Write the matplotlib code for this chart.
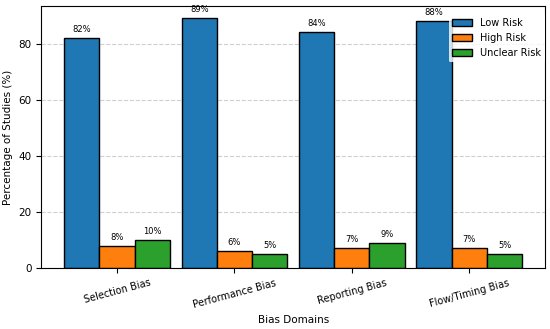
import matplotlib
matplotlib.use('Agg')
import matplotlib.pyplot as plt
import numpy as np

domains = ['Selection Bias', 'Performance Bias', 'Reporting Bias', 'Flow/Timing Bias']
low_risk = [82, 89, 84, 88]
high_risk = [8, 6, 7, 7]
unclear_risk = [10, 5, 9, 5]

fig, ax = plt.subplots(figsize=(5.5, 3.29), dpi=100)
fig.subplots_adjust(left=0.075, right=0.991, top=0.982, bottom=0.185)

x = np.arange(len(domains))
w = 0.3

series = [(low_risk, 'Low Risk', '#1f77b4', -w),
          (high_risk, 'High Risk', '#ff7f0e', 0),
          (unclear_risk, 'Unclear Risk', '#2ca02c', w)]

for vals, name, col, off in series:
    bars = ax.bar(x + off, vals, w, label=name, color=col, edgecolor='black', linewidth=1)
    for b, v in zip(bars, vals):
        ax.annotate(f'{v}%', (b.get_x() + b.get_width() / 2, b.get_height()),
                    xytext=(0, 3), textcoords='offset points',
                    ha='center', va='bottom', fontsize=6)

ax.set_xticks(x)
ax.set_xticklabels(domains, rotation=15, fontsize=7)
ax.tick_params(axis='y', labelsize=7.5)
ax.set_xlabel('Bias Domains', fontsize=7.5)
ax.set_ylabel('Percentage of Studies (%)', fontsize=7.5)
ax.yaxis.grid(True, linestyle='--', alpha=0.6)
ax.set_axisbelow(True)
leg = ax.legend(loc='upper right', fontsize=7, borderaxespad=0,
                bbox_to_anchor=(0.999, 0.968))
leg.get_frame().set_edgecolor('none')

plt.savefig('out.png', dpi=100)
